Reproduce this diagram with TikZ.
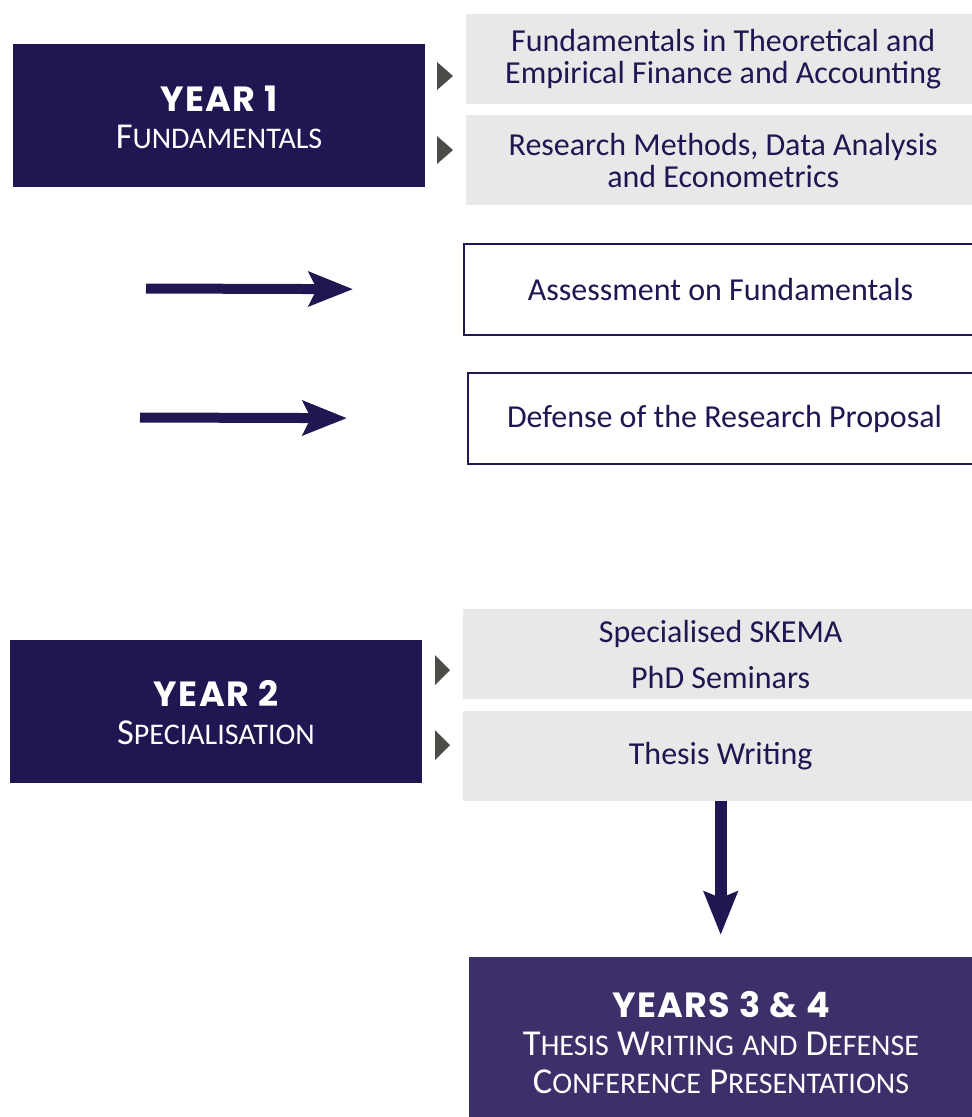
\documentclass[tikz,border=0pt]{standalone}
\usepackage{fontspec}
\setmainfont{Carlito}
\newfontfamily\titlefont{Poppins}[LetterSpace=4]
\usetikzlibrary{arrows.meta,calc}
\definecolor{navy}{RGB}{33,21,82}
\definecolor{violetbox}{RGB}{61,47,106}
\definecolor{panelgray}{RGB}{232,232,232}
\definecolor{markergray}{RGB}{75,75,71}
\newcommand\smc[1]{{\fontsize{30}{30}\selectfont #1}}
\begin{document}
\begin{tikzpicture}[x=1pt,y=-1pt,
  yearbox/.style={fill=#1, minimum width=412pt, minimum height=143pt, inner sep=0pt, anchor=north west},
  yeartitle/.style={text=white, inner sep=0pt, font=\titlefont\bfseries\fontsize{35}{35}\selectfont},
  yearsub/.style={text=white, inner sep=0pt, align=center, font=\fontsize{36.5}{38}\selectfont},
  graybox/.style={fill=panelgray, text=navy, minimum width=514pt, minimum height=90pt, inner sep=0pt, align=center, anchor=north west, font=\fontsize{32}{32}\selectfont},
  outlinebox/.style={draw=navy, line width=2pt, fill=white, text=navy, minimum width=513pt, minimum height=91pt, inner sep=0pt, anchor=north west, font=\fontsize{32}{32}\selectfont},
  fatarrow/.style={navy, line width=10pt, -{Stealth[length=44pt,width=34pt,inset=8pt]}},
  downarrow/.style={navy, line width=12pt, -{Stealth[length=43pt,width=33pt,inset=6pt]}},
  marker/.style={fill=markergray}
]
\useasboundingbox (0,0) rectangle (972,1117);

% Year 1
\node[yearbox=navy] (y1) at (13,44) {};
\node[yeartitle] (y1t) at (219,99) {YEAR 1};
\node[yearsub] (y1s) at (219,137) {F\smc{UNDAMENTALS}};

\node[graybox] (g1) at (466,14) {Fundamentals in Theoretical and\\Empirical Finance and Accounting};
\node[graybox] (g2) at (466,115) {Research Methods, Data Analysis\\and Econometrics};
\fill[marker] (437,62) -- (453,76) -- (437,90) -- cycle;
\fill[marker] (437,136) -- (453,150) -- (437,164) -- cycle;

% Assessments
\node[outlinebox] (as) at (463,243) {Assessment on Fundamentals};
\node[outlinebox] (df) at (467,372) {Defense of the Research Proposal};
\coordinate (a1) at (146,288.5);
\coordinate (a2) at (140,417.5);
\draw[fatarrow, shorten >=110pt] (a1) -- (as.west);
\draw[fatarrow, shorten >=120pt] (a2) -- (df.west);

% Year 2
\node[yearbox=navy] (y2) at (10,640) {};
\node[yeartitle] (y2t) at (216,693) {YEAR 2};
\node[yearsub] (y2s) at (216,733) {S\smc{PECIALISATION}};

\node[graybox, minimum width=515pt] (g3) at (463,609) {Specialised SKEMA\\[14pt]PhD Seminars};
\node[graybox, minimum width=515pt] (g4) at (463,711) {Thesis Writing};
\fill[marker] (435,655) -- (450,670) -- (435,685) -- cycle;
\fill[marker] (435,730) -- (450,745) -- (435,760) -- cycle;

% Years 3 & 4
\node[yearbox=violetbox, minimum width=504pt, minimum height=162pt] (y3) at (469,957) {};
\node[yeartitle] (y3t) at (721,1005) {YEARS 3 \& 4};
\node[yearsub] (y3s) at (721,1063) {T\smc{HESIS} W\smc{RITING} \smc{AND} D\smc{EFENSE}\\C\smc{ONFERENCE} P\smc{RESENTATIONS}};

\draw[downarrow, shorten >=22pt] (g4.south) -- (g4.south |- y3.north);
\end{tikzpicture}
\end{document}
